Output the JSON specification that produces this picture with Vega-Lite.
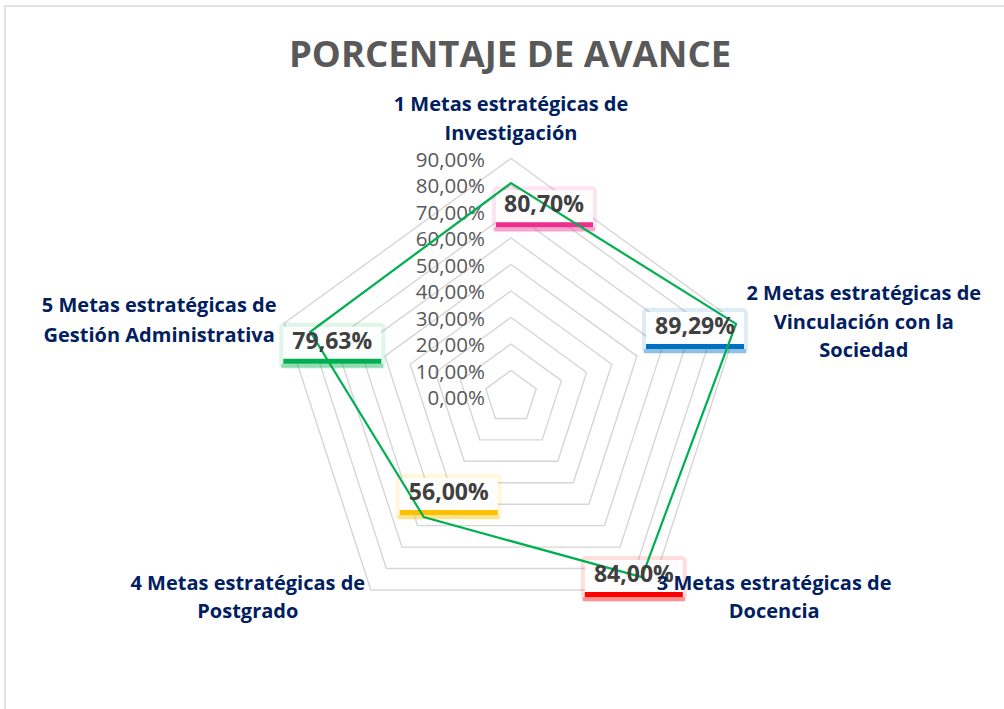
{
  "$schema": "https://vega.github.io/schema/vega-lite/v6.json",
  "width": 1010,
  "height": 720,
  "autosize": {"type": "none"},
  "padding": {"left": 5, "top": 6, "right": 0, "bottom": 0},
  "background": "white",
  "config": {
    "view": {"stroke": "#d9d9d9", "strokeWidth": 1.5},
    "locale": {"number": {"decimal": ",", "thousands": ".", "grouping": [3], "currency": ["", " €"]}}
  },
  "title": {
    "text": "PORCENTAJE DE AVANCE",
    "anchor": "middle",
    "orient": "top",
    "offset": -68,
    "font": "Open Sans",
    "fontSize": 36.5,
    "fontWeight": "bold",
    "color": "#595959"
  },
  "datasets": {
    "main": [
      {"k": 0, "cat": "1 Metas estratégicas de\nInvestigación", "v": 0.807},
      {"k": 1, "cat": "2 Metas estratégicas de\nVinculación con la\nSociedad", "v": 0.8929},
      {"k": 2, "cat": "3 Metas estratégicas de\nDocencia", "v": 0.84},
      {"k": 3, "cat": "4 Metas estratégicas de\nPostgrado", "v": 0.56},
      {"k": 4, "cat": "5 Metas estratégicas de\nGestión Administrativa", "v": 0.7963}
    ],
    "rings": [
      {"level": 0, "k": [0, 1, 2, 3, 4]},
      {"level": 0.1, "k": [0, 1, 2, 3, 4]},
      {"level": 0.2, "k": [0, 1, 2, 3, 4]},
      {"level": 0.3, "k": [0, 1, 2, 3, 4]},
      {"level": 0.4, "k": [0, 1, 2, 3, 4]},
      {"level": 0.5, "k": [0, 1, 2, 3, 4]},
      {"level": 0.6, "k": [0, 1, 2, 3, 4]},
      {"level": 0.7, "k": [0, 1, 2, 3, 4]},
      {"level": 0.8, "k": [0, 1, 2, 3, 4]},
      {"level": 0.9, "k": [0, 1, 2, 3, 4]}
    ]
  },
  "encoding": {
    "x": {"field": "px", "type": "quantitative", "scale": {"domain": [-1.9094, 1.9019], "nice": false, "zero": false}, "axis": null},
    "y": {"field": "py", "type": "quantitative", "scale": {"domain": [-1.2415, 1.4755], "nice": false, "zero": false}, "axis": null}
  },
  "layer": [
    {
      "data": {"name": "rings"},
      "transform": [
        {"flatten": ["k"]},
        {"calculate": "datum.level * sin(2 * PI * datum.k / 5)", "as": "px"},
        {"calculate": "datum.level * cos(2 * PI * datum.k / 5)", "as": "py"}
      ],
      "layer": [
        {
          "transform": [{"filter": "datum.level > 0"}],
          "mark": {"type": "line", "interpolate": "linear-closed", "color": "#d6d6d6", "strokeWidth": 1.4},
          "encoding": {
            "detail": {"field": "level", "type": "nominal"},
            "order": {"field": "k", "type": "quantitative"}
          }
        },
        {
          "transform": [{"filter": "datum.k == 0"}],
          "mark": {"type": "text", "align": "right", "baseline": "middle", "dx": -26, "dy": 2, "font": "Open Sans", "fontSize": 20.5, "color": "#595959"},
          "encoding": {
            "text": {"field": "level", "type": "quantitative", "format": ".2%"}
          }
        }
      ]
    },
    {
      "data": {"name": "main"},
      "transform": [
        {"calculate": "datum.v * sin(2 * PI * datum.k / 5)", "as": "px"},
        {"calculate": "datum.v * cos(2 * PI * datum.k / 5)", "as": "py"},
        {"calculate": "0.9 * sin(2 * PI * datum.k / 5)", "as": "lx"},
        {"calculate": "0.9 * cos(2 * PI * datum.k / 5)", "as": "ly"}
      ],
      "layer": [
        {
          "transform": [{"filter": "datum.k == 0"}],
          "layer": [
            {"mark": {"type": "rect", "color": "#ee2d8f", "opacity": 0.13, "cornerRadius": 5, "xOffset": -19, "x2Offset": 86, "yOffset": 3, "y2Offset": 49}, "encoding": {"x2": {"field": "px"}, "y2": {"field": "py"}}},
            {"mark": {"type": "rect", "color": "white", "opacity": 0.92, "xOffset": -15, "x2Offset": 82, "yOffset": 7, "y2Offset": 40}, "encoding": {"x2": {"field": "px"}, "y2": {"field": "py"}}},
            {"mark": {"type": "rect", "color": "#ee2d8f", "xOffset": -15, "x2Offset": 82, "yOffset": 39, "y2Offset": 44}, "encoding": {"x2": {"field": "px"}, "y2": {"field": "py"}}},
            {"mark": {"type": "rect", "color": "#ee2d8f", "opacity": 0.35, "xOffset": -17, "x2Offset": 84, "yOffset": 44, "y2Offset": 48}, "encoding": {"x2": {"field": "px"}, "y2": {"field": "py"}}}
          ]
        },
        {
          "transform": [{"filter": "datum.k == 1"}],
          "layer": [
            {"mark": {"type": "rect", "color": "#0070c0", "opacity": 0.13, "cornerRadius": 5, "xOffset": -94, "x2Offset": 12, "yOffset": -16, "y2Offset": 30}, "encoding": {"x2": {"field": "px"}, "y2": {"field": "py"}}},
            {"mark": {"type": "rect", "color": "white", "opacity": 0.92, "xOffset": -90, "x2Offset": 8, "yOffset": -12, "y2Offset": 21}, "encoding": {"x2": {"field": "px"}, "y2": {"field": "py"}}},
            {"mark": {"type": "rect", "color": "#0070c0", "xOffset": -90, "x2Offset": 8, "yOffset": 20, "y2Offset": 25}, "encoding": {"x2": {"field": "px"}, "y2": {"field": "py"}}},
            {"mark": {"type": "rect", "color": "#0070c0", "opacity": 0.35, "xOffset": -92, "x2Offset": 10, "yOffset": 25, "y2Offset": 29}, "encoding": {"x2": {"field": "px"}, "y2": {"field": "py"}}}
          ]
        },
        {
          "transform": [{"filter": "datum.k == 2"}],
          "layer": [
            {"mark": {"type": "rect", "color": "#ff0000", "opacity": 0.13, "cornerRadius": 5, "xOffset": -61, "x2Offset": 45, "yOffset": -21, "y2Offset": 25}, "encoding": {"x2": {"field": "px"}, "y2": {"field": "py"}}},
            {"mark": {"type": "rect", "color": "white", "opacity": 0.92, "xOffset": -57, "x2Offset": 41, "yOffset": -17, "y2Offset": 16}, "encoding": {"x2": {"field": "px"}, "y2": {"field": "py"}}},
            {"mark": {"type": "rect", "color": "#ff0000", "xOffset": -57, "x2Offset": 41, "yOffset": 15, "y2Offset": 20}, "encoding": {"x2": {"field": "px"}, "y2": {"field": "py"}}},
            {"mark": {"type": "rect", "color": "#ff0000", "opacity": 0.35, "xOffset": -59, "x2Offset": 43, "yOffset": 20, "y2Offset": 24}, "encoding": {"x2": {"field": "px"}, "y2": {"field": "py"}}}
          ]
        },
        {
          "transform": [{"filter": "datum.k == 3"}],
          "layer": [
            {"mark": {"type": "rect", "color": "#ffc000", "opacity": 0.13, "cornerRadius": 5, "xOffset": -28, "x2Offset": 78, "yOffset": -43, "y2Offset": 3}, "encoding": {"x2": {"field": "px"}, "y2": {"field": "py"}}},
            {"mark": {"type": "rect", "color": "white", "opacity": 0.92, "xOffset": -24, "x2Offset": 74, "yOffset": -39, "y2Offset": -6}, "encoding": {"x2": {"field": "px"}, "y2": {"field": "py"}}},
            {"mark": {"type": "rect", "color": "#ffc000", "xOffset": -24, "x2Offset": 74, "yOffset": -7, "y2Offset": -2}, "encoding": {"x2": {"field": "px"}, "y2": {"field": "py"}}},
            {"mark": {"type": "rect", "color": "#ffc000", "opacity": 0.35, "xOffset": -26, "x2Offset": 76, "yOffset": -2, "y2Offset": 2}, "encoding": {"x2": {"field": "px"}, "y2": {"field": "py"}}}
          ]
        },
        {
          "transform": [{"filter": "datum.k == 4"}],
          "layer": [
            {"mark": {"type": "rect", "color": "#00b050", "opacity": 0.13, "cornerRadius": 5, "xOffset": -31, "x2Offset": 75, "yOffset": -9, "y2Offset": 37}, "encoding": {"x2": {"field": "px"}, "y2": {"field": "py"}}},
            {"mark": {"type": "rect", "color": "white", "opacity": 0.92, "xOffset": -27, "x2Offset": 71, "yOffset": -5, "y2Offset": 28}, "encoding": {"x2": {"field": "px"}, "y2": {"field": "py"}}},
            {"mark": {"type": "rect", "color": "#00b050", "xOffset": -27, "x2Offset": 71, "yOffset": 27, "y2Offset": 32}, "encoding": {"x2": {"field": "px"}, "y2": {"field": "py"}}},
            {"mark": {"type": "rect", "color": "#00b050", "opacity": 0.35, "xOffset": -29, "x2Offset": 73, "yOffset": 32, "y2Offset": 36}, "encoding": {"x2": {"field": "px"}, "y2": {"field": "py"}}}
          ]
        },
        {
          "mark": {"type": "line", "interpolate": "linear-closed", "color": "#00b050", "strokeWidth": 2.2},
          "encoding": {"order": {"field": "k", "type": "quantitative"}}
        },
        {
          "transform": [{"filter": "datum.k == 0"}],
          "layer": [
            {"mark": {"type": "text", "align": "center", "baseline": "middle", "dx": 33, "dy": 22, "font": "Open Sans", "fontSize": 23, "fontWeight": "bold", "color": "#404040"}, "encoding": {"text": {"field": "v", "type": "quantitative", "format": ".2%"}}},
            {"mark": {"type": "text", "align": "center", "baseline": "middle", "lineBreak": "\n", "lineHeight": 29, "dx": 0, "dy": -54, "font": "Open Sans", "fontSize": 20, "fontWeight": "bold", "color": "#002060"},
             "encoding": {"x": {"field": "lx", "type": "quantitative", "scale": {"domain": [-1.9094, 1.9019], "nice": false, "zero": false}, "axis": null}, "y": {"field": "ly", "type": "quantitative", "scale": {"domain": [-1.2415, 1.4755], "nice": false, "zero": false}, "axis": null}, "text": {"field": "cat", "type": "nominal"}}}
          ]
        },
        {
          "transform": [{"filter": "datum.k == 1"}],
          "layer": [
            {"mark": {"type": "text", "align": "center", "baseline": "middle", "dx": -41, "dy": 3, "font": "Open Sans", "fontSize": 23, "fontWeight": "bold", "color": "#404040"}, "encoding": {"text": {"field": "v", "type": "quantitative", "format": ".2%"}}},
            {"mark": {"type": "text", "align": "center", "baseline": "middle", "lineBreak": "\n", "lineHeight": 28.5, "dx": 126, "dy": -29, "font": "Open Sans", "fontSize": 20, "fontWeight": "bold", "color": "#002060"},
             "encoding": {"x": {"field": "lx", "type": "quantitative", "scale": {"domain": [-1.9094, 1.9019], "nice": false, "zero": false}, "axis": null}, "y": {"field": "ly", "type": "quantitative", "scale": {"domain": [-1.2415, 1.4755], "nice": false, "zero": false}, "axis": null}, "text": {"field": "cat", "type": "nominal"}}}
          ]
        },
        {
          "transform": [{"filter": "datum.k == 2"}],
          "layer": [
            {"mark": {"type": "text", "align": "center", "baseline": "middle", "dx": -8, "dy": -2, "font": "Open Sans", "fontSize": 23, "fontWeight": "bold", "color": "#404040"}, "encoding": {"text": {"field": "v", "type": "quantitative", "format": ".2%"}}},
            {"mark": {"type": "text", "align": "center", "baseline": "middle", "lineBreak": "\n", "lineHeight": 28, "dx": 123, "dy": -6, "font": "Open Sans", "fontSize": 20, "fontWeight": "bold", "color": "#002060"},
             "encoding": {"x": {"field": "lx", "type": "quantitative", "scale": {"domain": [-1.9094, 1.9019], "nice": false, "zero": false}, "axis": null}, "y": {"field": "ly", "type": "quantitative", "scale": {"domain": [-1.2415, 1.4755], "nice": false, "zero": false}, "axis": null}, "text": {"field": "cat", "type": "nominal"}}}
          ]
        },
        {
          "transform": [{"filter": "datum.k == 3"}],
          "layer": [
            {"mark": {"type": "text", "align": "center", "baseline": "middle", "dx": 25, "dy": -24, "font": "Open Sans", "fontSize": 23, "fontWeight": "bold", "color": "#404040"}, "encoding": {"text": {"field": "v", "type": "quantitative", "format": ".2%"}}},
            {"mark": {"type": "text", "align": "center", "baseline": "middle", "lineBreak": "\n", "lineHeight": 28, "dx": -123, "dy": -6, "font": "Open Sans", "fontSize": 20, "fontWeight": "bold", "color": "#002060"},
             "encoding": {"x": {"field": "lx", "type": "quantitative", "scale": {"domain": [-1.9094, 1.9019], "nice": false, "zero": false}, "axis": null}, "y": {"field": "ly", "type": "quantitative", "scale": {"domain": [-1.2415, 1.4755], "nice": false, "zero": false}, "axis": null}, "text": {"field": "cat", "type": "nominal"}}}
          ]
        },
        {
          "transform": [{"filter": "datum.k == 4"}],
          "layer": [
            {"mark": {"type": "text", "align": "center", "baseline": "middle", "dx": 22, "dy": 10, "font": "Open Sans", "fontSize": 23, "fontWeight": "bold", "color": "#404040"}, "encoding": {"text": {"field": "v", "type": "quantitative", "format": ".2%"}}},
            {"mark": {"type": "text", "align": "center", "baseline": "middle", "lineBreak": "\n", "lineHeight": 30, "dx": -125, "dy": -17, "font": "Open Sans", "fontSize": 20, "fontWeight": "bold", "color": "#002060"},
             "encoding": {"x": {"field": "lx", "type": "quantitative", "scale": {"domain": [-1.9094, 1.9019], "nice": false, "zero": false}, "axis": null}, "y": {"field": "ly", "type": "quantitative", "scale": {"domain": [-1.2415, 1.4755], "nice": false, "zero": false}, "axis": null}, "text": {"field": "cat", "type": "nominal"}}}
          ]
        }
      ]
    }
  ]
}
